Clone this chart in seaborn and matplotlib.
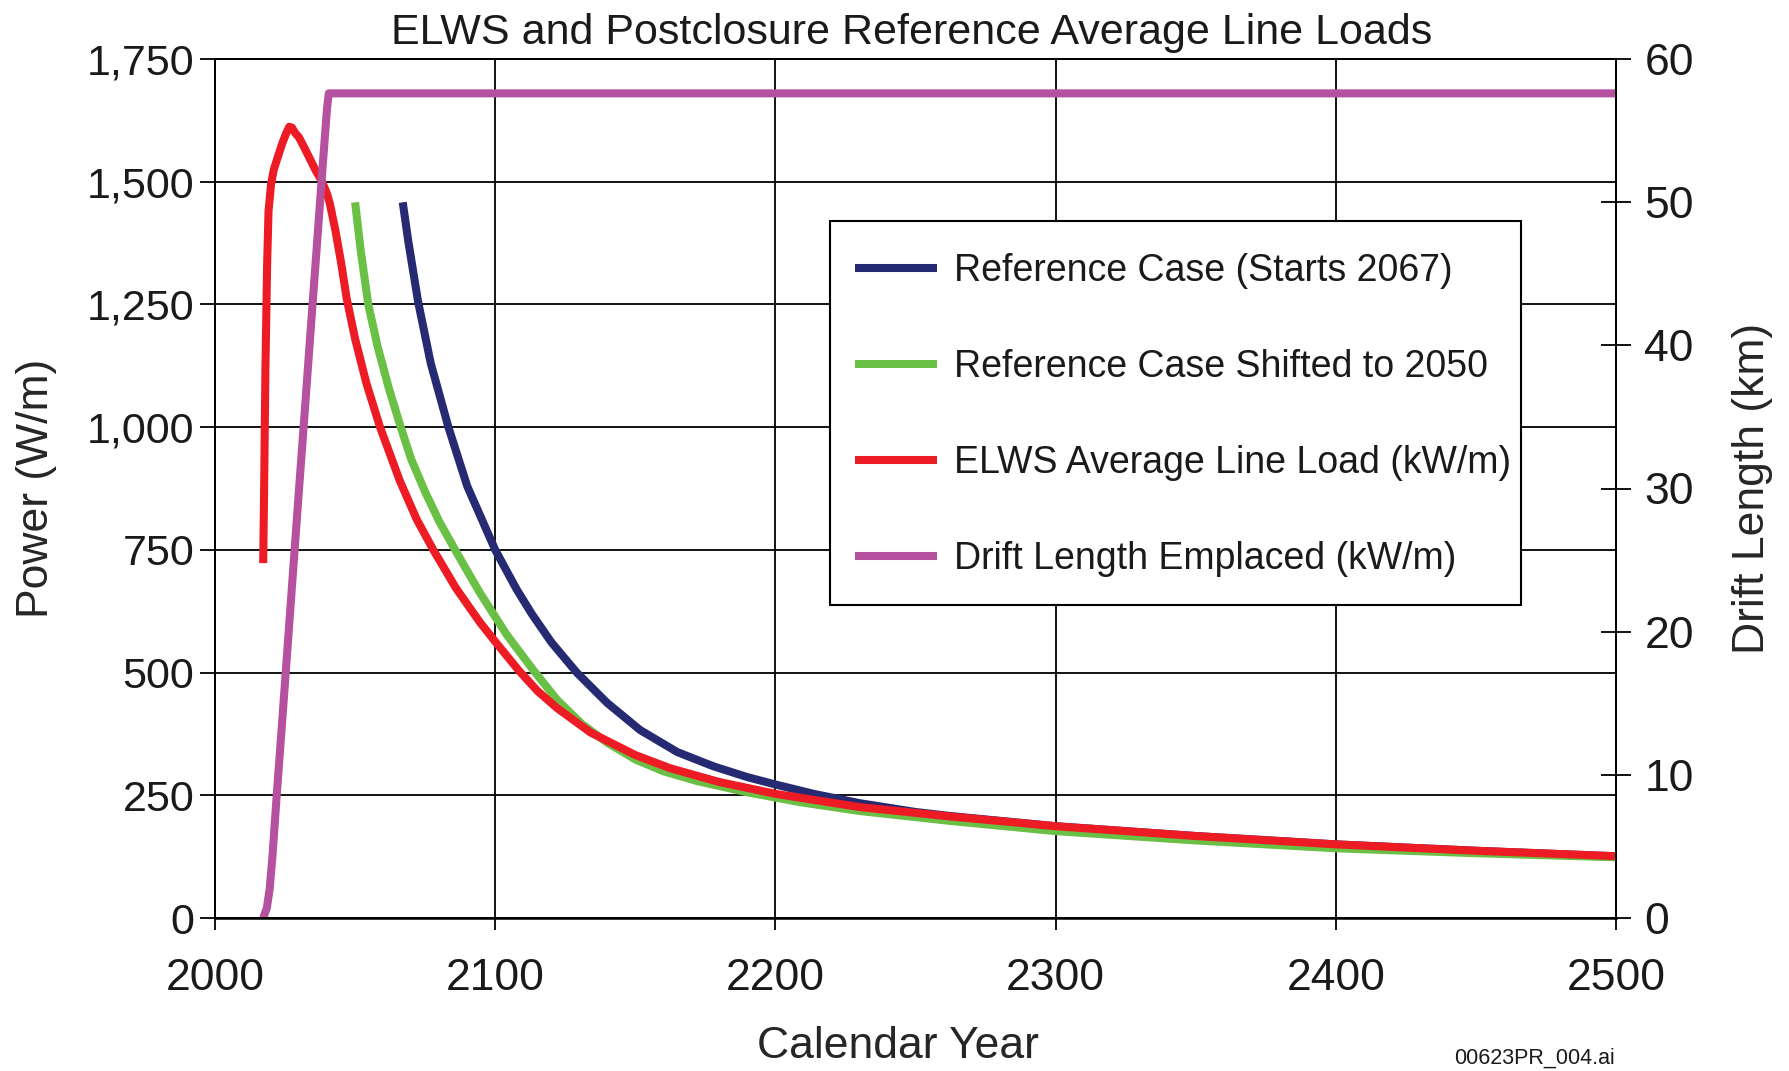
import matplotlib
matplotlib.use("Agg")
import matplotlib.pyplot as plt
from matplotlib.patches import Rectangle
import pandas as pd
import seaborn as sns
from matplotlib.ticker import FuncFormatter

# ---- data -------------------------------------------------------------
# Reference case, emplacement starting 2067 (W/m)
ref_years = [2067, 2069, 2072.5, 2077, 2083.3, 2090, 2100, 2107.6, 2113, 2120,
             2129.1, 2140, 2151.7, 2165, 2177.9, 2190, 2200, 2213.6, 2230,
             2250, 2262, 2300, 2350, 2400, 2450, 2500]
ref_power = [1458, 1378, 1255, 1130, 1000, 880, 750, 670, 620, 562,
             500, 438, 383, 338, 309, 287, 272, 253, 234,
             216, 208, 187, 167, 150, 137, 125.5]

# Reference case shifted to 2050 (W/m)
shift_years = [2050, 2052, 2054.7, 2058, 2062, 2066, 2070, 2075, 2080, 2085.7,
               2090, 2094.6, 2104, 2113.6, 2122, 2131, 2140, 2150, 2160,
               2172, 2190, 2208.8, 2230, 2262, 2300, 2350, 2400, 2450, 2500]
shift_power = [1458, 1360, 1250, 1165, 1080, 1005, 935, 868, 808, 750,
               707, 662, 578, 505, 445, 395, 357, 323, 299,
               279, 256, 236, 218, 198, 177, 158, 142, 132, 123.7]

# ELWS average line load (W/m)
elws_years = [2017.2, 2017.5, 2018.0, 2018.6, 2019.1, 2020.0, 2021.0, 2022.5,
              2024.0, 2025.5, 2026.5, 2027.5, 2028.5, 2030, 2032, 2034, 2036,
              2038, 2040, 2041, 2043, 2045, 2047, 2050, 2054, 2058.9, 2066,
              2072, 2077.9, 2086, 2094.6, 2100, 2108.3, 2115, 2122, 2134,
              2150, 2162.5, 2180, 2200, 2230, 2262, 2300, 2350, 2400, 2450,
              2500]
elws_power = [723, 860, 1120, 1330, 1440, 1495, 1525, 1552,
              1578, 1600, 1612, 1610, 1600, 1590, 1568, 1545, 1522,
              1503, 1475, 1455, 1400, 1335, 1262, 1180, 1090, 1000, 890,
              812, 750, 672, 602, 563, 505, 463, 428, 378,
              332, 305, 277, 253, 226, 207, 187, 167, 150, 137,
              126]

# Drift length emplaced (km)
drift_years = [2017.2, 2018.5, 2019.5, 2020.5, 2022, 2024, 2026, 2028, 2030,
               2032, 2034, 2036, 2038, 2040, 2040.6, 2500]
drift_km = [0, 0.7, 2.0, 4.3, 8.5, 13.8, 19.2, 24.6, 30.0,
            35.3, 40.7, 46.0, 51.4, 56.6, 57.6, 57.6]

year_ticks = [2000, 2100, 2200, 2300, 2400, 2500]
power_ticks = [0, 250, 500, 750, 1000, 1250, 1500, 1750]
drift_ticks = [0, 10, 20, 30, 40, 50, 60]

labels = ["Reference Case (Starts 2067)",
          "Reference Case Shifted to 2050",
          "ELWS Average Line Load (kW/m)",
          "Drift Length Emplaced (kW/m)"]
colors = ["#262a72", "#6abf45", "#ed1c24", "#b5519f"]

# ---- style ------------------------------------------------------------
sns.set_style("white")
plt.rcParams["font.family"] = ["Liberation Sans", "DejaVu Sans"]
plt.rcParams["text.color"] = "#1a1a1a"

fig = plt.figure(figsize=(17.9, 10.71), dpi=100)
ax = fig.add_axes([215 / 1790, 1 - 918 / 1071, 1401 / 1790, 859 / 1071])
ax2 = ax.twinx()

lw = 5.8
series = [(ref_years, ref_power, ax), (shift_years, shift_power, ax),
          (elws_years, elws_power, ax), (drift_years, drift_km, ax2)]
for (xs, ys, a), lab, col in zip(series, labels, colors):
    df = pd.DataFrame({"year": xs, "value": ys})
    sns.lineplot(data=df, x="year", y="value", ax=a, color=col, lw=lw,
                 label=lab, legend=False, solid_capstyle="butt",
                 solid_joinstyle="round")

# ---- axes -------------------------------------------------------------
ax.set_xlim(2000, 2500)
ax.set_ylim(0, 1750)
ax2.set_ylim(0, 60)
ax.set_xticks(year_ticks)
ax.set_yticks(power_ticks)
ax2.set_yticks(drift_ticks)
ax.yaxis.set_major_formatter(FuncFormatter(lambda v, p: f"{v:,.0f}"))

ax.grid(True, color="black", lw=1.3)
ax2.grid(False)
for a in (ax, ax2):
    for s in a.spines.values():
        s.set_color("black")
        s.set_linewidth(1.4)
ax.spines["bottom"].set_linewidth(1.8)

ax.tick_params(axis="x", direction="out", length=8.6, width=1.3,
               labelsize=32, pad=20, colors="black", bottom=True)
ax.tick_params(axis="y", direction="out", length=11, width=1.3,
               labelsize=31, pad=4, colors="black", left=True)
ax2.tick_params(axis="y", direction="inout", length=21, width=1.3,
                labelsize=32, pad=10, colors="black", right=True)
for t in ax.get_xticklabels() + ax.get_yticklabels() + ax2.get_yticklabels():
    t.set_color("#1a1a1a")

ax.set_xlabel("Calendar Year", fontsize=32)
ax.xaxis.set_label_coords(0.4875, -0.126)
ax.set_ylabel("Power (W/m)", fontsize=32)
ax.yaxis.set_label_coords(-0.1128, 0.5)
ax2.set_ylabel("Drift Length (km)", fontsize=32)
ax2.yaxis.set_label_coords(1.083, 0.5)

ax.set_title("ELWS and Postclosure Reference Average Line Loads",
             fontsize=31, pad=11, x=0.497)

# ---- legend -----------------------------------------------------------
box_x0, box_x1 = (830 - 215) / 1401, (1521 - 215) / 1401
box_y0, box_y1 = (918 - 605) / 859, (918 - 221.5) / 859
ax2.add_patch(Rectangle((box_x0, box_y0), box_x1 - box_x0, box_y1 - box_y0,
                        transform=ax2.transAxes, facecolor="white",
                        edgecolor="black", lw=1.5, zorder=4.5))
handles = ax.get_lines()[:3] + ax2.get_lines()[:1]
leg = ax2.legend(handles, labels, loc="upper left",
                 bbox_to_anchor=((855 - 215) / 1401, (918 - 253) / 859),
                 borderaxespad=0, borderpad=0, frameon=False,
                 fontsize=27, handlelength=2.2, handletextpad=0.43,
                 labelspacing=1.6)
leg.set_zorder(5)
for h in leg.get_lines():
    h.set_linewidth(5.8)

fig.text(1615 / 1790, 1 - 1064 / 1071, "00623PR_004.ai", ha="right",
         va="baseline", fontsize=15.5, color="#1a1a1a")

fig.savefig("out.png", dpi=100, facecolor="white")
